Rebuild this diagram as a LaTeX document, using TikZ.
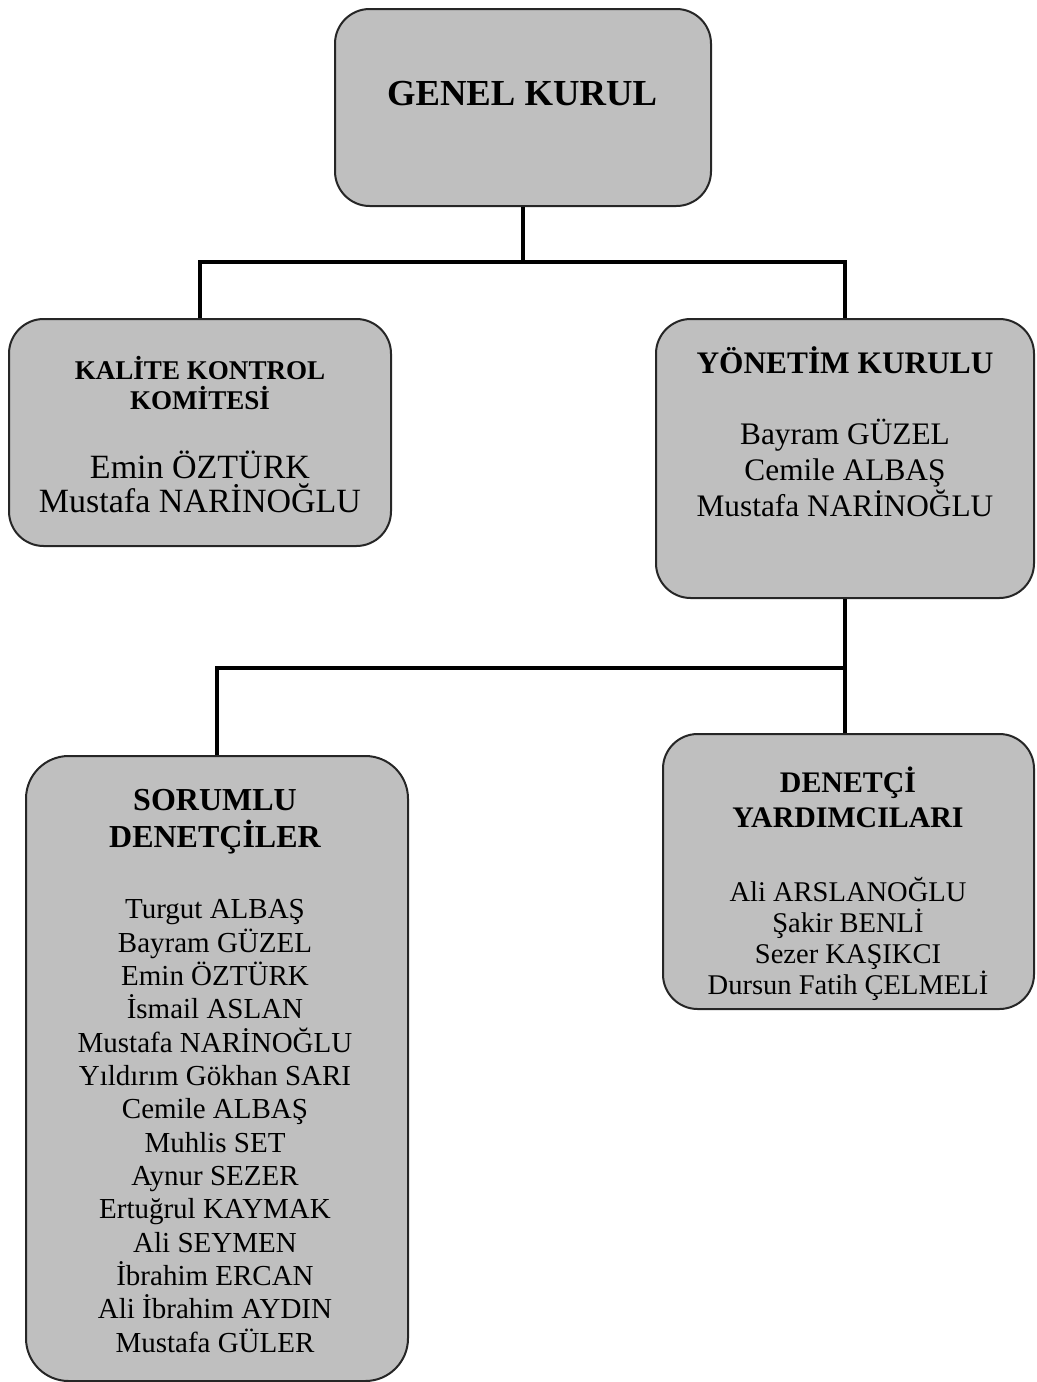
\documentclass[tikz,border=0pt]{standalone}
\usepackage{fontspec}
\setmainfont{Liberation Serif}
\usetikzlibrary{positioning}
\tikzset{
  box/.style={draw=black!85, line width=1.5pt, fill=black!25, rounded corners=26pt, anchor=north west, inner sep=0pt},
  conn/.style={draw=black, line width=2.4pt},
  head/.style n args={2}{font={\fontsize{#1}{#2}\selectfont\bfseries\lineskiplimit=-50pt}, align=center},
  names/.style n args={2}{font={\fontsize{#1}{#2}\selectfont\lineskiplimit=-50pt}, align=center},
}
\begin{document}
\begin{tikzpicture}[x=0.75pt,y=-0.75pt]
  \useasboundingbox (0,0) rectangle (1036,1382);
  % boxes
  \node[box, minimum width=282pt, minimum height=147.75pt] (genel) at (334,8) {};
  \node[box, minimum width=286.5pt, minimum height=170.25pt] (kalite) at (8,318) {};
  \node[box, minimum width=283.5pt, minimum height=209.25pt] (yonetim) at (655,318) {};
  \node[box, minimum width=286.5pt, minimum height=468.75pt, rounded corners=32pt] (sorumlu) at (25,755) {};
  \node[box, minimum width=278.25pt, minimum height=206.25pt] (yardimci) at (662,733) {};
  % texts
  \node[head={27.5}{32}] (genelT) at (522,94) {GENEL KURUL};
  \node[head={20.3}{22.5}] (kaliteT) at (200,383) {KALİTE KONTROL\\KOMİTESİ};
  \node[names={25.5}{25.5}] (kaliteN) at (200,482) {Emin ÖZTÜRK\\Mustafa NARİNOĞLU};
  \node[head={23.5}{28}] (yonetimT) at (845,360) {YÖNETİM KURULU};
  \node[names={23.5}{27}] (yonetimN) at (845,468) {Bayram GÜZEL\\Cemile ALBAŞ\\Mustafa NARİNOĞLU};
  \node[head={24}{27.75}] (sorumluT) at (215,822) {SORUMLU\\DENETÇİLER};
  \node[names={21.75}{25}] (sorumluN) at (215,1126) {Turgut ALBAŞ\\Bayram GÜZEL\\Emin ÖZTÜRK\\İsmail ASLAN\\Mustafa NARİNOĞLU\\Yıldırım Gökhan SARI\\Cemile ALBAŞ\\Muhlis SET\\Aynur SEZER\\Ertuğrul KAYMAK\\Ali SEYMEN\\İbrahim ERCAN\\Ali İbrahim AYDIN\\Mustafa GÜLER};
  \node[head={22.4}{26.25}] (yardimciT) at (848,797) {DENETÇİ\\YARDIMCILARI};
  \node[names={21.4}{23.25}] (yardimciN) at (848,939) {Ali ARSLANOĞLU\\Şakir BENLİ\\Sezer KAŞIKCI\\Dursun Fatih ÇELMELİ};
  % connectors
  \coordinate (j1) at (genel.south |- 0,262);
  \coordinate (j2) at (yonetim.south |- 0,668);
  \draw[conn] (genel.south) -- (j1);
  \draw[conn] (kalite.north) |- (j1) -| (yonetim.north);
  \draw[conn] (yonetim.south) -- (yonetim.south |- yardimci.north);
  \draw[conn] (sorumlu.north) |- (j2);
\end{tikzpicture}
\end{document}
